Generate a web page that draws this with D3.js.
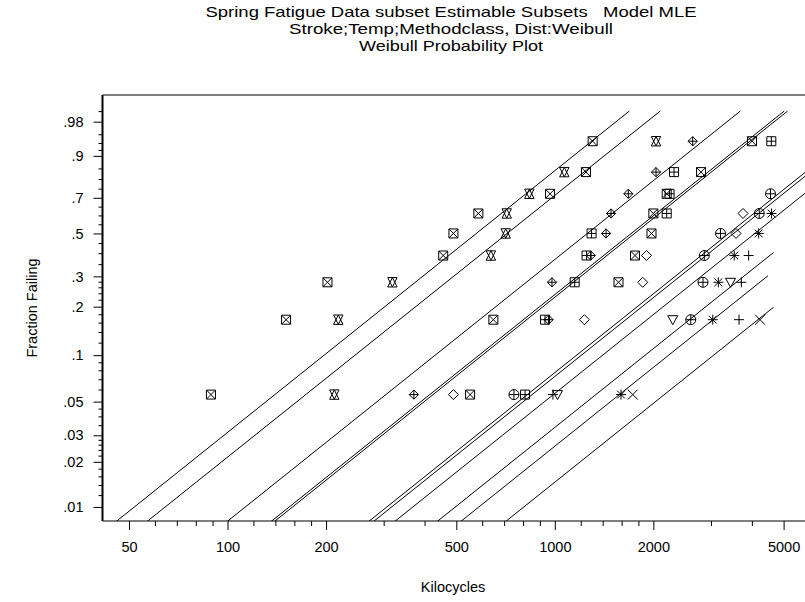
<!DOCTYPE html>
<html>
<head>
<meta charset="utf-8">
<script src="https://cdn.jsdelivr.net/npm/d3@7"></script>
<style>
  body { margin: 0; background: #fff; }
  text { font-family: "Liberation Sans", Arial, Helvetica, sans-serif; fill: #000; }
</style>
</head>
<body>
<svg id="chart" width="805" height="602"></svg>
<script>
// Plotting positions (fraction failing) used by every subset, rank 1..9
const plotProbs = [0.0556, 0.1667, 0.2778, 0.3889, 0.5, 0.6111, 0.7222, 0.8333, 0.9444];

// One entry per estimable subset: marker, failure times (kilocycles, in rank order)
const subsetSymbols = ["squareX", "triUpDown", "diamondPlus", "squareX", "diamond",
  "squarePlus", "circlePlus", "asterisk", "plus", "triDown", "cross"];
const subsetTimes = [
  [89, 151, 202, 456, 490, 584, 967, 1245, 1305],
  [212, 218, 319, 638, 708, 713, 836, 1069, 2038],
  [371, 957, 980, 1287, 1434, 1485, 1677, 2038, 2638],
  [551, 649, 1565, 1758, 1974, 2000, 2197, 2797, 4004],
  [490, 1231, 1856, 1906, 3578, 3758],
  [811, 933, 1150, 1250, 1295, 2197, 2241, 2313, 4586],
  [750, 2602, 2836, 2862, 3208, 4212, 4560],
  [1593, 3037, 3159, 3533, 4195, 4593],
  [987, 3654, 3714, 3910],
  [1019, 2292, 3443],
  [1730, 4236]
];

// MLE fit: common Weibull shape, scale per subset, last time the line is drawn to
const weibullShape = 1.76;
const subsetEta = [709, 881, 1548, 2158, 4332, 2108, 4188, 5029, 6782, 8003, 10980];
const lineEndTimes = [Infinity, Infinity, Infinity, Infinity, 6000, Infinity, 6000, 6000, 4660, 4480, 4660];
const lineTopProb = 0.99;

// Axis ticks
const xTickValues = [50, 100, 200, 500, 1000, 2000, 5000];
const xMinorValues = [60, 70, 80, 90, 120, 140, 160, 180, 300, 400, 600, 700, 800, 900,
  1200, 1400, 1600, 1800, 3000, 4000];
const yTickValues = [0.01, 0.02, 0.03, 0.05, 0.1, 0.2, 0.3, 0.5, 0.7, 0.9, 0.98];
const yTickLabels = [".01", ".02", ".03", ".05", ".1", ".2", ".3", ".5", ".7", ".9", ".98"];
const yMinorValues = [0.012, 0.014, 0.016, 0.018, 0.022, 0.024, 0.026, 0.028, 0.035, 0.04, 0.045,
  0.06, 0.07, 0.08, 0.09, 0.12, 0.14, 0.16, 0.18, 0.22, 0.24, 0.26, 0.28,
  0.35, 0.4, 0.45, 0.55, 0.6, 0.65, 0.75, 0.8, 0.85, 0.92, 0.94, 0.96, 0.99];

const xDomain = [41.5, 5812];
const yDomainProbs = [0.00805, 0.99729];

const titleLines = [
  "Spring Fatigue Data subset Estimable Subsets   Model MLE",
  "Stroke;Temp;Methodclass, Dist:Weibull",
  "Weibull Probability Plot"
];
const titleWidths = [491, 324, 184]; // the title font is set wide

// Weibull probability paper transform
const weib = (p) => Math.log(-Math.log(1 - p));

function symbolPath(type, s) {
  const sq = `M${-s},${-s}H${s}V${s}H${-s}Z`;
  const dia = `M0,${-s}L${s},0L0,${s}L${-s},0Z`;
  const plus = `M0,${-s}V${s}M${-s},0H${s}`;
  const cross = `M${-s},${-s}L${s},${s}M${s},${-s}L${-s},${s}`;
  const circ = `M${-s},0A${s},${s} 0 1,0 ${s},0A${s},${s} 0 1,0 ${-s},0Z`;
  switch (type) {
    case "squareX": return sq + cross;
    case "squarePlus": return sq + plus;
    case "triUpDown": return `M0,${-s}L${s},${s}H${-s}Z M${-s},${-s}H${s}L0,${s}Z`;
    case "diamondPlus": return dia + plus;
    case "diamond": return dia;
    case "circlePlus": return circ + plus;
    case "asterisk": {
      const d = s * 0.78;
      return plus + `M${-d},${-d}L${d},${d}M${d},${-d}L${-d},${d}`;
    }
    case "plus": return plus;
    case "triDown": return `M${-s},${-s * 0.8}H${s}L0,${s}Z`;
    case "cross": return cross;
  }
}
const symbolSize = { squareX: 4.5, squarePlus: 4.5, triUpDown: 4.7, diamondPlus: 4.6, diamond: 5,
  circlePlus: 5, asterisk: 5, plus: 5, triDown: 5, cross: 5 };

function createChart() {
  const svg = d3.select("#chart");
  const left = 102.5, right = 805, top = 95, bottom = 521;

  const x = d3.scaleLog().domain(xDomain).range([left, right]);
  const y = d3.scaleLinear().domain(yDomainProbs.map(weib)).range([bottom, top]);

  // Title (keeps the run of spaces before "Model")
  svg.append("g")
    .selectAll("text")
    .data(titleLines)
    .enter()
    .append("text")
    .attr("x", 451)
    .attr("y", (d, i) => 17 + i * 16.8)
    .attr("text-anchor", "middle")
    .attr("textLength", (d, i) => titleWidths[i])
    .attr("lengthAdjust", "spacingAndGlyphs")
    .style("font-size", "15px")
    .style("white-space", "pre")
    .text((d) => d);

  // Clip for the fitted lines
  svg.append("defs").append("clipPath").attr("id", "plotClip")
    .append("rect").attr("x", left).attr("y", top)
    .attr("width", right - left).attr("height", bottom - top);

  // Fitted Weibull lines (straight on this paper)
  const zBottom = weib(yDomainProbs[0]) - 0.2;
  const zTop = weib(lineTopProb);
  const lineData = subsetEta.map((eta, i) => {
    const t0 = eta * Math.exp(zBottom / weibullShape);
    let t1 = eta * Math.exp(zTop / weibullShape);
    if (lineEndTimes[i] < t1) t1 = lineEndTimes[i];
    const z1 = weibullShape * Math.log(t1 / eta);
    return { x1: x(t0), y1: y(zBottom), x2: x(t1), y2: y(z1) };
  });
  svg.append("g")
    .attr("clip-path", "url(#plotClip)")
    .selectAll("line")
    .data(lineData)
    .enter()
    .append("line")
    .attr("x1", (d) => d.x1).attr("y1", (d) => d.y1)
    .attr("x2", (d) => d.x2).attr("y2", (d) => d.y2)
    .style("stroke", "#000")
    .style("stroke-width", 1);

  // Points
  const points = [];
  subsetTimes.forEach((times, g) => {
    times.forEach((t, i) => points.push({ t: t, p: plotProbs[i], sym: subsetSymbols[g] }));
  });
  svg.append("g")
    .selectAll("path")
    .data(points)
    .enter()
    .append("path")
    .attr("transform", (d) => `translate(${x(d.t)},${y(weib(d.p))})`)
    .attr("d", (d) => symbolPath(d.sym, symbolSize[d.sym]))
    .style("fill", "none")
    .style("stroke", "#000")
    .style("stroke-width", 1);

  // Frame: top rule
  svg.append("line")
    .attr("x1", left).attr("x2", right).attr("y1", top).attr("y2", top)
    .style("stroke", "#555").style("stroke-width", 1.5);

  // X axis
  const xAxisG = svg.append("g").attr("transform", `translate(0,${bottom})`);
  xAxisG.append("g")
    .call(d3.axisBottom(x).tickValues(xMinorValues).tickSize(5).tickSizeOuter(0).tickFormat(""));
  xAxisG.append("g")
    .call(d3.axisBottom(x).tickValues(xTickValues).tickSize(9).tickSizeOuter(0)
      .tickPadding(12).tickFormat(d3.format("d")));
  xAxisG.selectAll(".domain").remove();
  xAxisG.selectAll("text").style("font-size", "14.5px").style("font-family", null);
  xAxisG.append("line").attr("x1", left).attr("x2", right)
    .style("stroke", "#000").style("stroke-width", 1.2);

  // Y axis
  const yAxisG = svg.append("g").attr("transform", `translate(${left},0)`);
  yAxisG.append("g")
    .call(d3.axisLeft(y).tickValues(yMinorValues.map(weib)).tickSize(4).tickSizeOuter(0).tickFormat(""));
  yAxisG.append("g")
    .call(d3.axisLeft(y).tickValues(yTickValues.map(weib)).tickSize(9).tickSizeOuter(0)
      .tickPadding(10).tickFormat((d, i) => yTickLabels[i]));
  yAxisG.selectAll(".domain").remove();
  yAxisG.selectAll("text").style("font-size", "14.5px").style("font-family", null);
  yAxisG.append("line").attr("y1", top).attr("y2", bottom)
    .style("stroke", "#000").style("stroke-width", 2);

  // Axis titles
  svg.append("text")
    .attr("x", 453).attr("y", 592)
    .attr("text-anchor", "middle")
    .style("font-size", "14.5px")
    .text("Kilocycles");
  svg.append("text")
    .attr("transform", `translate(37,${(top + bottom) / 2}) rotate(-90)`)
    .attr("text-anchor", "middle")
    .style("font-size", "14.5px")
    .text("Fraction Failing");
}

createChart();
</script>
</body>
</html>
